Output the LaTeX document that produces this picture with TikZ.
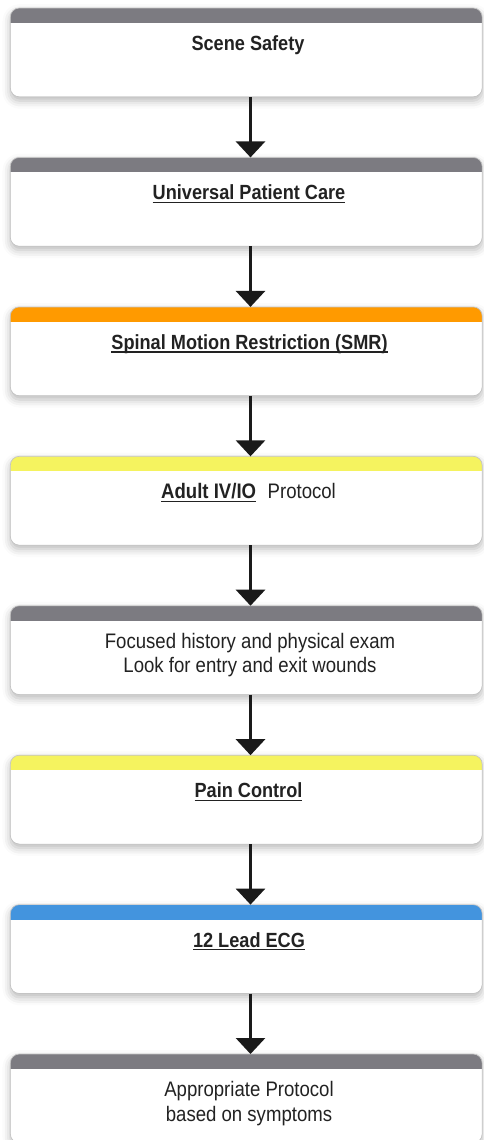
\documentclass[tikz,border=0pt]{standalone}
\usepackage{fontspec}
\setmainfont{Liberation Sans}[FakeStretch=0.885]
\usetikzlibrary{arrows.meta,shadows.blur}
\definecolor{hgray}{HTML}{7C7B81}
\definecolor{horange}{HTML}{FF9A00}
\definecolor{hyellow}{HTML}{F5F35F}
\definecolor{hblue}{HTML}{4394DE}
\definecolor{txt}{HTML}{222222}
\definecolor{bord}{HTML}{C4C4C4}
\definecolor{arrc}{HTML}{1A1A1A}
\newcommand{\myul}[1]{\setbox0\hbox{#1}\rlap{\rule[-3.2pt]{\wd0}{1.2pt}}\box0}
\newcommand{\hdr}[2]{%
  \begin{scope}
    \clip[rounded corners=9pt] (#1.north west) rectangle (#1.south east);
    \fill[#2] (#1.north west) rectangle ([yshift=-15pt]#1.north east);
  \end{scope}
  \draw[bord, line width=0.7pt, rounded corners=9pt] (#1.north west) rectangle (#1.south east);}
\tikzset{
  card/.style={rectangle, rounded corners=9pt, minimum width=471.5pt, minimum height=88.5pt,
    inner sep=0pt, fill=white, draw=none, anchor=north,
    blur shadow={shadow xshift=0pt, shadow yshift=-4pt, shadow blur radius=8pt, shadow opacity=28}},
  lbl/.style={anchor=base, inner sep=0pt, font=\fontsize{21}{24}\selectfont, text=txt},
  blbl/.style={lbl, font=\fontsize{20.5}{24}\selectfont\bfseries},
  arr/.style={line width=3pt, arrc, -{Triangle[width=29pt,length=16pt]}}
}
\begin{document}
\begin{tikzpicture}[x=1pt,y=-1pt]
\useasboundingbox (0,0) rectangle (483,1140);
\node[card] (b1) at (246.25,8) {};
\node[card] (b2) at (246.25,157.4) {};
\node[card] (b3) at (246.25,306.9) {};
\node[card] (b4) at (246.25,456.3) {};
\node[card] (b5) at (246.25,605.7) {};
\node[card] (b6) at (246.25,755.2) {};
\node[card] (b7) at (246.25,904.6) {};
\node[card] (b8) at (246.25,1054.0) {};
\hdr{b1}{hgray}
\hdr{b2}{hgray}
\hdr{b3}{horange}
\hdr{b4}{hyellow}
\hdr{b5}{hgray}
\hdr{b6}{hyellow}
\hdr{b7}{hblue}
\hdr{b8}{hgray}
\node[blbl] (t1) at (248,50.5) {Scene Safety};
\node[blbl] (t2) at (249,199.9) {\myul{Universal Patient Care}};
\node[blbl] (t3) at (249.5,349.4) {\myul{Spinal Motion Restriction (SMR)}};
\node[lbl] (t4) at (248.5,498.8) {\textbf{\myul{Adult IV/IO}}\hspace{0.55em}Protocol};
\node[lbl] (t5a) at (250,648.2) {Focused history and physical exam};
\node[lbl] (t5b) at (250,672.7) {Look for entry and exit wounds};
\node[blbl] (t6) at (248.5,797.7) {\myul{Pain Control}};
\node[blbl] (t7) at (249,947.1) {\myul{12 Lead ECG}};
\node[lbl] (t8a) at (249,1096.5) {Appropriate Protocol};
\node[lbl] (t8b) at (249,1121.0) {based on symptoms};
\foreach \a/\b in {b1/b2,b2/b3,b3/b4,b4/b5,b5/b6,b6/b7,b7/b8}
  \draw[arr] ([xshift=4.25pt]\a.south) -- ([xshift=4.25pt]\b.north);
\end{tikzpicture}
\end{document}
